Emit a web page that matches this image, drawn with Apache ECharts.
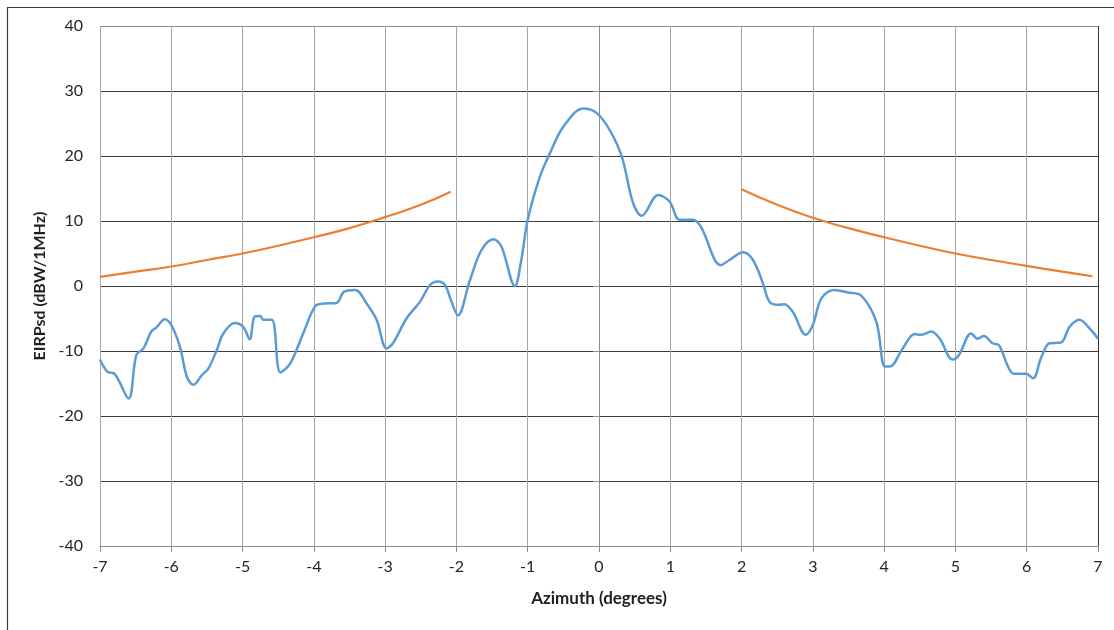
<!DOCTYPE html>
<html>
<head>
<meta charset="utf-8">
<script src="https://cdn.jsdelivr.net/npm/echarts@6/dist/echarts.min.js"></script>
<style>
html,body{margin:0;padding:0;background:#fff;}
#chart{width:1114px;height:630px;}
</style>
</head>
<body>
<div id="chart"></div>
<script>
// Measured EIRP density (blue)
const azimuthMeasured = [-7.0,-6.88,-6.81,-6.60,-6.49,-6.39,-6.28,-6.21,-6.09,-6.0,-5.88,-5.78,-5.69,-5.57,-5.48,-5.36,-5.27,-5.11,-4.99,-4.90,-4.83,-4.75,-4.71,-4.59,-4.47,-4.33,-4.15,-3.98,-3.86,-3.68,-3.58,-3.42,-3.26,-3.12,-2.98,-2.89,-2.70,-2.51,-2.37,-2.26,-2.16,-2.07,-1.98,-1.81,-1.65,-1.48,-1.37,-1.18,-1.09,-1.0,-0.83,-0.69,-0.50,-0.22,-0.03,0.15,0.32,0.48,0.60,0.83,0.99,1.13,1.32,1.43,1.71,1.83,2.02,2.16,2.30,2.39,2.51,2.60,2.72,2.90,3.0,3.12,3.30,3.49,3.68,3.89,4.01,4.08,4.26,4.43,4.52,4.66,4.78,4.96,5.05,5.22,5.31,5.40,5.52,5.61,5.73,5.82,5.99,6.09,6.20,6.32,6.48,6.60,6.74,6.88,7.0];
const eirpMeasured = [-11.3,-13.3,-13.4,-17.3,-10.6,-9.6,-7.0,-6.4,-5.1,-6.0,-9.3,-14.0,-15.2,-13.7,-12.7,-9.8,-7.3,-5.7,-6.3,-8.2,-4.7,-4.6,-5.2,-5.2,-13.3,-11.9,-7.3,-3.1,-2.7,-2.6,-0.9,-0.6,-2.7,-5.2,-9.6,-8.8,-5.0,-2.4,0.15,0.7,0.15,-2.4,-4.5,0.9,5.5,7.2,6.1,0.0,4.0,10.2,16.8,20.4,24.5,27.3,26.6,24.0,19.9,12.7,10.8,14.0,13.0,10.2,10.2,9.1,3.2,4.0,5.2,4.0,0.4,-2.4,-2.9,-2.8,-4.0,-7.5,-6.0,-1.9,-0.6,-1.0,-1.5,-5.5,-12.4,-12.4,-9.6,-7.4,-7.5,-7.0,-8.1,-11.3,-10.6,-7.3,-8.1,-7.7,-8.8,-9.1,-12.2,-13.5,-13.5,-14.2,-11.1,-8.8,-8.7,-6.3,-5.2,-6.5,-8.1];

// Mask (orange), left and right branches
const azimuthMaskLeft = [-7.0,-6.5,-6.0,-5.5,-5.0,-4.5,-4.0,-3.5,-3.0,-2.5,-2.08];
const eirpMaskLeft = [1.4,2.2,3.0,4.0,5.0,6.2,7.5,8.9,10.6,12.5,14.5];
const azimuthMaskRight = [2.0,2.5,3.0,3.5,4.0,4.5,5.0,5.5,6.0,6.5,6.92];
const eirpMaskRight = [14.9,12.5,10.5,8.9,7.5,6.2,5.0,4.0,3.1,2.2,1.5];

const xTicks = [-7,-6,-5,-4,-3,-2,-1,0,1,2,3,4,5,6,7];
const yTicks = [-40,-30,-20,-10,0,10,20,30,40];

const zip = (a,b) => a.map((v,i)=>[v,b[i]]);

const xLineColors = xTicks.map((t,i)=> i===xTicks.length-1 ? '#333333' : '#a6a6a6');
const yLineColors = yTicks.map((t,i)=> (i===0 || i===yTicks.length-1) ? '#8c8c8c' : '#3f3f3f');

const chart = echarts.init(document.getElementById('chart'), null, {renderer:'canvas'});
chart.setOption({
  animation:false,
  backgroundColor:'#ffffff',
  graphic:[{
    type:'rect', left:5, top:5, shape:{width:1200, height:800},
    style:{fill:'none', stroke:'#3a3a3a', lineWidth:1.2}, silent:true, z:-1
  }],
  grid:{left:100, right:16, top:26, bottom:84, containLabel:false},
  xAxis:{
    type:'value', min:-7, max:7, interval:1,
    name:'Azimuth (degrees)', nameLocation:'middle', nameGap:44,
    nameTextStyle:{fontFamily:'Lato', fontWeight:'bold', fontSize:17, color:'#1f1f1f'},
    axisLine:{show:true, onZero:false, lineStyle:{color:'#8c8c8c', width:1}},
    axisTick:{show:true, length:6, lineStyle:{color:'#8c8c8c'}},
    axisLabel:{fontFamily:'Lato', fontSize:16, color:'#262626', margin:13},
    splitLine:{show:true, lineStyle:{color:xLineColors, width:1}}
  },
  yAxis:{
    type:'value', min:-40, max:40, interval:10,
    name:'EIRPsd (dBW/1MHz)', nameLocation:'middle', nameGap:52, nameRotate:90,
    nameTextStyle:{fontFamily:'Lato', fontWeight:'bold', fontSize:16, color:'#1f1f1f'},
    axisLine:{show:true, lineStyle:{color:'#8c8c8c', width:1}},
    axisTick:{show:true, length:6, lineStyle:{color:'#8c8c8c'}},
    axisLabel:{fontFamily:'Lato', fontSize:16, color:'#262626', margin:17},
    splitLine:{show:true, lineStyle:{color:yLineColors, width:1.2}}
  },
  series:[
    {type:'line', data:zip(azimuthMeasured, eirpMeasured), smooth:0.35, showSymbol:false,
     lineStyle:{color:'#5b9bd5', width:2.5}, z:3},
    {type:'line', data:zip(azimuthMaskLeft, eirpMaskLeft), smooth:true, showSymbol:false,
     lineStyle:{color:'#ed7d31', width:2.2}, z:2},
    {type:'line', data:zip(azimuthMaskRight, eirpMaskRight), smooth:true, showSymbol:false,
     lineStyle:{color:'#ed7d31', width:2.2}, z:2}
  ]
});
</script>
</body>
</html>
